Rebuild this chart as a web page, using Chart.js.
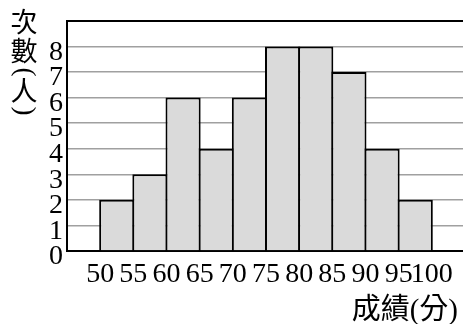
<!DOCTYPE html>
<html>
<head>
<meta charset="utf-8">
<script src="https://cdn.jsdelivr.net/npm/chart.js@4"></script>
<style>
  html, body { margin: 0; padding: 0; background: #fff; overflow: hidden; }
  #wrap { width: 463px; height: 324px; }
</style>
</head>
<body>
<div id="wrap"><canvas id="histChart" width="463" height="324"></canvas></div>
<script>
// data
const binStarts = [50, 55, 60, 65, 70, 75, 80, 85, 90, 95];
const binWidth = 5;
const counts = [2, 3, 6, 4, 6, 8, 8, 7, 4, 2];
const edgeLabels = [50, 55, 60, 65, 70, 75, 80, 85, 90, 95, 100];
const yTicks = [0, 1, 2, 3, 4, 5, 6, 7, 8];
const yTitle = ["次", "數", "(", "人", ")"];
const xTitle = "成績(分)";

const serif = "Liberation Serif, Times New Roman, serif";
const cjk = "Liberation Serif, Noto Sans CJK TC, sans-serif";

// axis titles drawn by hand (vertical stacked y title)
const titlesPlugin = {
  id: "titles",
  afterDraw(chart) {
    const ctx = chart.ctx;
    ctx.save();
    ctx.fillStyle = "#000";
    ctx.textAlign = "center";
    ctx.textBaseline = "middle";
    ctx.font = "27px " + cjk;
    const ys = [25, 54, 72, 94, 111];
    yTitle.forEach((ch, i) => {
      if (ch === "(" || ch === ")") {
        ctx.save();
        ctx.translate(24, ys[i]);
        ctx.rotate(Math.PI / 2);
        ctx.fillText(ch, 0, 0);
        ctx.restore();
      } else {
        ctx.fillText(ch, 24, ys[i]);
      }
    });
    ctx.textAlign = "right";
    ctx.textBaseline = "alphabetic";
    ctx.font = "29px " + cjk;
    ctx.fillText(xTitle, 458, 319);
    ctx.restore();
  }
};

const ctx = document.getElementById("histChart").getContext("2d");
const pxPerBin = (463 - 67) / ((104.7 - 45) / binWidth);

new Chart(ctx, {
  type: "bar",
  data: {
    datasets: [{
      data: binStarts.map((s, i) => ({ x: s + binWidth / 2, y: counts[i] })),
      backgroundColor: "#dadada",
      borderColor: "#000",
      borderWidth: 2,
      barPercentage: (pxPerBin + 2) / pxPerBin,
      categoryPercentage: 1
    }]
  },
  options: {
    responsive: false,
    animation: false,
    events: [],
    layout: { padding: { top: 13, left: 0, right: 0, bottom: 0 } },
    plugins: { legend: { display: false }, tooltip: { enabled: false } },
    scales: {
      x: {
        type: "linear",
        offset: false,
        min: 45,
        max: 104.7,
        afterBuildTicks: (axis) => { axis.ticks = edgeLabels.map(v => ({ value: v })); },
        afterFit: (axis) => { axis.height = 73; },
        grid: { display: false, drawTicks: false, offset: false },
        border: { display: true, color: "#000", width: 2 },
        ticks: {
          color: "#000",
          font: { family: serif, size: 28 },
          padding: 7,
          maxRotation: 0,
          autoSkip: false
        }
      },
      y: {
        min: 0,
        max: 9,
        afterBuildTicks: (axis) => { axis.ticks = yTicks.concat([9]).map(v => ({ value: v })); },
        afterFit: (axis) => { axis.width = 67; },
        grid: {
          drawTicks: false,
          color: (c) => (c.tick && c.tick.value === 9 ? "#000" : "#a0a0a0"),
          lineWidth: (c) => (c.tick && c.tick.value === 9 ? 2 : 1.5)
        },
        border: { display: true, color: "#000", width: 2 },
        ticks: {
          color: "#000",
          font: { family: serif, size: 28 },
          padding: 4,
          labelOffset: 6,
          autoSkip: false,
          callback: (v) => (yTicks.includes(v) ? String(v) : "")
        }
      }
    }
  },
  plugins: [titlesPlugin]
});
</script>
</body>
</html>
